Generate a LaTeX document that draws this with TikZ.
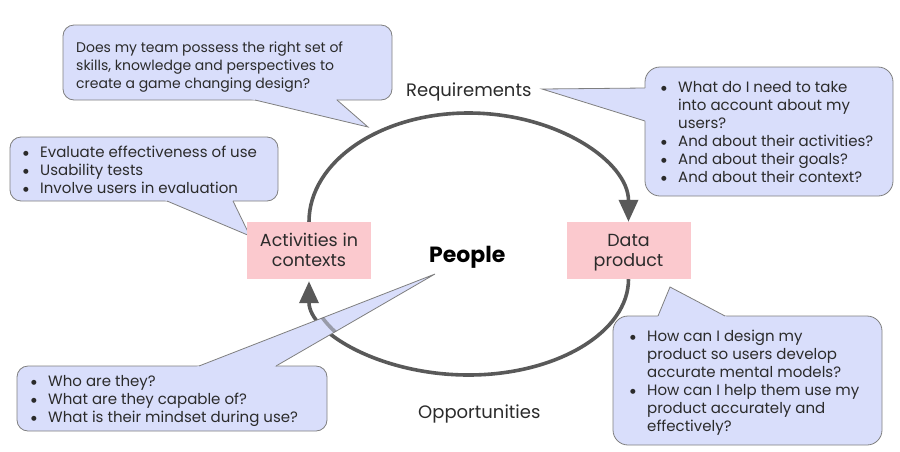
\documentclass[tikz,border=0pt]{standalone}
\usepackage{fontspec}
\setmainfont{Poppins}
\newfontfamily\dejavu{DejaVu Sans}
\usetikzlibrary{arrows.meta,calc}
\definecolor{cfill}{HTML}{D9DEFB}
\definecolor{cline}{HTML}{7F7F7F}
\definecolor{pinkb}{HTML}{FBC9CE}
\definecolor{arr}{HTML}{595959}
\definecolor{txt}{HTML}{2B2B2B}
\newcommand{\bitem}{\makebox[17pt][l]{\raisebox{0.2ex}{\dejavu\fontsize{6.5}{6.5}\selectfont ●}}}
\newcommand{\bcont}{\hspace*{17pt}}
\newcommand{\callout}[5]{%
  \draw[cbox, rounded corners=#5] #1;
  \fill[cfill] ($#2!-0.1!#3$) -- #3 -- ($#4!-0.1!#3$) -- cycle;
  \draw[cline, line width=0.8pt] #2 -- #3 -- #4;
}
\begin{document}
\begin{tikzpicture}[x=1pt,y=-1pt,
  font=\fontsize{14}{18}\selectfont,
  cbox/.style={fill=cfill, draw=cline, line width=0.8pt},
  txtnode/.style={inner sep=0pt, text=txt, align=left, anchor=base west},
  listnode/.style={txtnode, font=\fontsize{15}{18}\selectfont},
  pinkbox/.style={fill=pinkb, draw=none, minimum width=124pt, minimum height=57pt, inner sep=0pt, align=center, text=txt},
  flow/.style={draw=arr, line width=3.6pt, -{Triangle[length=22pt,width=19pt]}}]
\useasboundingbox (0,0) rectangle (900,451);

% callouts behind
\callout{(63,25) rectangle (392,100)}{(255,100)}{(368,127)}{(337,100)}{11pt}
\callout{(10,137) rectangle (278,201)}{(167,201)}{(250,236)}{(233,201)}{11pt}
\callout{(645,67) rectangle (893,196)}{(645,88)}{(542,89)}{(645,121)}{15pt}
\callout{(613,316) rectangle (882,445)}{(658,316)}{(670,287)}{(725,316)}{15pt}

% boxes
\node[pinkbox] (act) at (309,250.5) {};
\node[pinkbox] (dp) at (628.5,250.5) {};

% cycle arrows
\coordinate (top) at (468.5,113);
\coordinate (bot) at (468.5,375);
\draw[flow] (act.north) .. controls +(0,-60.2) and +(-88.1,0) .. (top)
  .. controls +(88.1,0) and +(0,-60.2) .. (dp.north);
\draw[flow, shorten >=2pt] (dp.south) .. controls +(0,53) and +(88.1,0) .. (bot)
  .. controls +(-88.1,0) and +(0,53) .. (act.south);

% bottom-left callout over the arrow
\callout{(17,366) rectangle (327,431)}{(199,366)}{(435,274)}{(276,366)}{11pt}
\begin{scope}
  \clip (199,366) -- (435,274) -- (276,366) -- cycle;
  \draw[draw=arr, line width=3.6pt, opacity=0.5] (dp.south) .. controls +(0,53) and +(88.1,0) .. (bot)
  .. controls +(-88.1,0) and +(0,53) .. (act.south);
\end{scope}

% box texts
\node[txtnode, anchor=base, align=center, font=\fontsize{17.5}{20}\selectfont] (actt) at (309,266) {Activities in\\contexts};
\node[txtnode, anchor=base, align=center, font=\fontsize{17.5}{20}\selectfont] (dpt) at (628.5,266) {Data\\product};

% labels
\node[txtnode, font=\fontsize{18}{20}\selectfont] (req) at (406,96) {Requirements};
\node[txtnode, font=\fontsize{18}{20}\selectfont] (opp) at (418,418) {Opportunities};
\node[txtnode, font=\fontsize{22}{24}\selectfont\bfseries, text=black] (people) at (429,262) {People};

% callout texts
\node[txtnode] (t1) at (76,88) {Does my team possess the right set of\\skills, knowledge and perspectives to\\create a game changing design?};
\node[listnode] (t2) at (23,193) {\bitem Evaluate effectiveness of use\\\bitem Usability tests\\\bitem Involve users in evaluation};
\node[listnode] (t3) at (661,182) {\bitem What do I need to take\\\bcont into account about my\\\bcont users?\\\bitem And about their activities?\\\bitem And about their goals?\\\bitem And about their context?};
\node[listnode] (t4) at (630,431) {\bitem How can I design my\\\bcont product so users develop\\\bcont accurate mental models?\\\bitem How can I help them use my\\\bcont product accurately and\\\bcont effectively?};
\node[listnode] (t5) at (31,422) {\bitem Who are they?\\\bitem What are they capable of?\\\bitem What is their mindset during use?};
\end{tikzpicture}
\end{document}
